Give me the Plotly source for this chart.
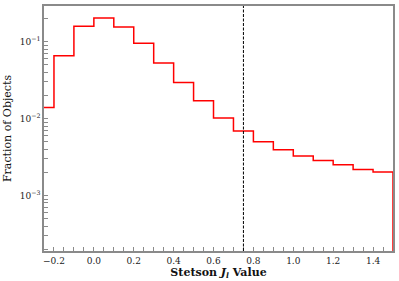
import numpy as np
import plotly.graph_objects as go

# Histogram bin edges and fraction values (step histogram)
bin_edges = [-0.3, -0.2, -0.1, 0.0, 0.1, 0.2, 0.3, 0.4, 0.5, 0.6, 0.7,
             0.8, 0.9, 1.0, 1.1, 1.2, 1.3, 1.4, 1.5]
fractions = [0.0139, 0.0656, 0.158, 0.203, 0.155, 0.095, 0.0528, 0.0294,
             0.0170, 0.0102, 0.00689, 0.00498, 0.00394, 0.00327, 0.00285,
             0.00251, 0.00217, 0.00202]
cut_value = 0.75

x_ticks = [-0.2, 0.0, 0.2, 0.4, 0.6, 0.8, 1.0, 1.2, 1.4]
x_ticklabels = ["\u22120.2", "0.0", "0.2", "0.4", "0.6", "0.8", "1.0", "1.2", "1.4"]
y_ticks = [1e-3, 1e-2, 1e-1]
y_ticklabels = ["10<sup>\u22123</sup>", "10<sup>\u22122</sup>", "10<sup>\u22121</sup>"]

floor = 1e-9
xs = [bin_edges[0]] + list(bin_edges) + [bin_edges[-1]]
ys = [floor] + list(fractions) + [fractions[-1], floor]

font_family = "DejaVu Serif"
axis_color = "#8a8a8a"

fig = go.Figure()
fig.add_trace(go.Scatter(x=xs, y=ys, mode="lines", line_shape="hv",
                         line=dict(color="#ff0000", width=1.5),
                         showlegend=False, hoverinfo="skip"))

fig.add_shape(type="line", x0=cut_value, x1=cut_value, y0=0, y1=1,
              xref="x", yref="paper",
              line=dict(color="black", width=1, dash="3px,1.5px"))

fig.update_layout(
    width=399, height=281,
    margin=dict(l=44, r=4, t=4, b=30),
    paper_bgcolor="white", plot_bgcolor="white",
    font=dict(family=font_family, size=9, color="#222222"),
)
fig.update_xaxes(
    range=[-0.25, 1.5],
    tickvals=x_ticks, ticktext=x_ticklabels,
    ticks="inside", ticklen=4, tickwidth=1, tickcolor=axis_color,
    minor=dict(dtick=0.05, tick0=0, ticks="inside", ticklen=4, tickwidth=1, tickcolor=axis_color),
    showline=True, linecolor=axis_color, linewidth=1.5, mirror=True,
    showgrid=False, zeroline=False,
    title=dict(text="<b>Stetson <i>J</i><sub><i>l</i></sub> Value</b>",
               font=dict(family=font_family, size=11, color="#111111"), standoff=2),
    tickfont=dict(family=font_family, size=9),
)
fig.update_yaxes(
    type="log",
    range=[np.log10(1.9e-4), np.log10(0.29)],
    tickvals=y_ticks, ticktext=y_ticklabels,
    ticks="inside", ticklen=4, tickwidth=1, tickcolor=axis_color,
    minor=dict(dtick="D1", ticks="inside", ticklen=4, tickwidth=1, tickcolor=axis_color),
    showline=True, linecolor=axis_color, linewidth=1.5, mirror=True,
    showgrid=False, zeroline=False,
    title=dict(text="Fraction of Objects",
               font=dict(family=font_family, size=11, color="#111111"), standoff=6),
    tickfont=dict(family=font_family, size=9),
)

fig.write_html("out.html",
               config={"displayModeBar": False},
               post_script="document.body.style.margin='0';document.body.style.overflow='hidden';")
